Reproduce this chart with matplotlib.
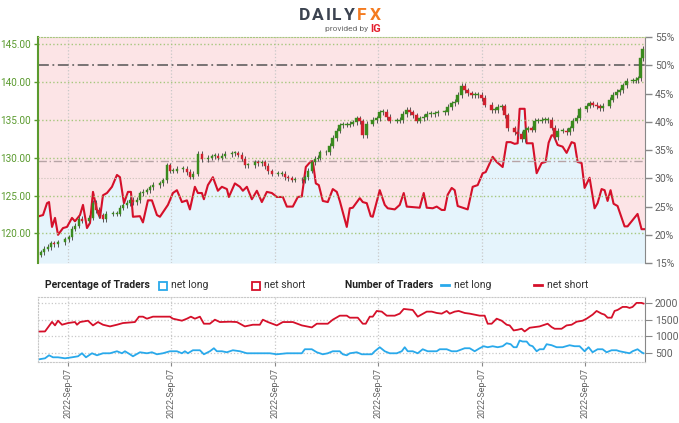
import matplotlib.pyplot as plt
import numpy as np
from matplotlib.patches import Rectangle

plt.rcParams['font.family'] = ['Roboto', 'DejaVu Sans']

# candle positions (time units) and closing prices
candle_t = [41, 44, 48, 51, 54, 58, 65, 69, 72, 75, 79, 82, 89, 93, 96, 99, 103, 106, 113, 117,
            120, 123, 127, 130, 133, 137, 140, 143, 147, 150, 153, 160, 163, 167, 170, 173, 177, 183, 187, 190,
            193, 198, 202, 208, 212, 215, 218, 222, 225, 232, 235, 238, 242, 245, 248, 255, 258, 262, 265, 268,
            272, 278, 282, 285, 288, 292, 295, 302, 305, 308, 312, 315, 318, 320, 326, 330, 333, 337, 340, 343,
            347, 350, 353, 357, 360, 363, 367, 373, 377, 380, 383, 387, 390, 397, 400, 403, 407, 410, 413, 417,
            420, 424, 427, 431, 435, 438, 445, 448, 452, 455, 458, 462, 465, 468, 472, 475, 478, 482, 485, 492,
            495, 498, 502, 505, 508, 515, 518, 522, 525, 528, 532, 535, 538, 542, 545, 548, 552, 555, 558, 563,
            567, 570, 573, 577, 580, 587, 590, 593, 597, 600, 603, 610, 613, 617, 620, 623, 627, 633, 636, 638,
            641, 643]
candle_close = [117.5, 118.0, 118.2, 118.7, 118.6, 118.8, 119.2, 119.5, 120.6, 121.0, 121.9, 121.7, 122.1, 124.0, 123.1, 122.4, 121.9, 122.6, 122.6, 122.6,
                123.4, 123.7, 124.0, 124.4, 124.1, 124.4, 125.3, 125.5, 125.7, 126.1, 126.4, 126.6, 127.0, 129.0, 128.3, 128.3, 128.5, 128.5, 128.1, 127.5,
                127.9, 130.5, 129.8, 130.0, 130.2, 130.3, 130.0, 130.3, 130.5, 130.6, 130.6, 130.4, 129.9, 129.0, 129.0, 129.4, 129.3, 129.4, 128.9, 128.2,
                127.9, 127.9, 127.9, 127.4, 127.3, 127.1, 127.1, 127.0, 127.4, 128.3, 129.4, 129.9, 130.0, 130.7, 130.7, 131.6, 132.6, 133.6, 134.3, 134.4,
                134.4, 134.5, 134.7, 135.2, 134.8, 133.0, 134.5, 135.0, 135.2, 136.0, 136.1, 135.4, 134.9, 134.9, 135.0, 135.8, 136.3, 136.0, 135.6, 134.9,
                135.2, 135.4, 135.8, 135.8, 135.9, 136.0, 136.0, 136.7, 137.2, 137.4, 138.3, 139.5, 138.9, 138.5, 138.3, 138.3, 138.3, 137.9, 137.0, 136.3,
                136.3, 136.7, 136.8, 135.6, 133.9, 133.4, 133.2, 132.5, 133.7, 133.9, 133.7, 134.9, 134.9, 135.0, 135.0, 135.0, 134.0, 132.7, 133.6, 133.6,
                133.4, 133.9, 134.9, 135.3, 136.4, 136.9, 137.2, 137.0, 136.8, 136.6, 136.9, 137.7, 138.3, 138.7, 138.9, 139.6, 140.2, 140.2, 140.3, 140.5,
                143.2, 144.4]

# percentage of traders net long (right axis)
pct_t = [39, 43, 47, 49, 52, 55, 58, 63, 67, 72, 75, 80, 83, 87, 90, 93, 97, 100, 103, 107,
         112, 117, 120, 124, 128, 131, 133, 140, 143, 148, 152, 157, 160, 168, 173, 177, 182, 187, 190, 195,
         198, 202, 204, 208, 213, 218, 222, 227, 229, 235, 240, 243, 247, 252, 257, 262, 267, 272, 277, 283,
         287, 293, 298, 302, 306, 311, 313, 316, 319, 323, 328, 333, 337, 340, 347, 350, 353, 360, 363, 367,
         371, 373, 380, 385, 388, 395, 400, 404, 407, 420, 424, 427, 433, 437, 442, 445, 448, 452, 455, 458,
         468, 473, 478, 483, 486, 493, 497, 503, 507, 511, 515, 518, 520, 525, 527, 533, 537, 542, 546, 549,
         552, 554, 558, 563, 567, 572, 575, 578, 582, 585, 590, 595, 598, 602, 605, 608, 611, 614, 618, 625,
         628, 638, 642, 645]
pct_long = [23.3, 23.5, 25.6, 25.8, 21.4, 23.0, 20.0, 21.2, 21.4, 23.0, 22.4, 23.5, 25.3, 21.2, 22.1, 27.6, 24.4, 23.0, 27.0, 27.4,
            28.5, 30.6, 30.2, 25.6, 27.6, 27.6, 23.2, 23.3, 22.2, 26.1, 26.1, 23.5, 23.2, 25.3, 27.4, 27.9, 25.8, 26.1, 24.5, 28.5,
            27.4, 27.4, 26.3, 28.8, 30.2, 27.8, 28.5, 28.1, 26.7, 29.1, 28.5, 27.8, 28.5, 26.3, 27.8, 25.8, 27.6, 27.4, 26.7, 26.7,
            25.0, 25.0, 26.7, 26.8, 32.0, 33.0, 33.0, 29.1, 28.8, 26.0, 25.8, 28.1, 27.6, 26.0, 21.4, 24.7, 24.8, 26.5, 25.8, 25.6,
            23.3, 23.2, 27.9, 25.3, 24.7, 24.5, 25.3, 27.4, 25.0, 24.8, 27.4, 24.8, 24.7, 25.0, 24.4, 24.4, 27.1, 28.3, 27.9, 25.1,
            24.5, 28.5, 28.8, 30.9, 31.1, 33.8, 32.9, 32.0, 36.4, 36.4, 36.1, 36.2, 42.3, 42.3, 36.2, 36.2, 30.9, 32.7, 32.9, 36.3,
            37.6, 37.6, 35.9, 35.6, 34.5, 36.4, 36.2, 32.9, 32.7, 28.3, 30.1, 24.7, 25.6, 28.1, 27.9, 26.0, 27.9, 25.5, 25.1, 21.5,
            21.5, 23.7, 21.0, 21.0]

# number of traders
short_t = [39, 45, 52, 55, 58, 62, 68, 75, 77, 80, 88, 93, 98, 103, 110, 117, 123, 135, 139, 143,
           147, 153, 163, 170, 173, 182, 187, 191, 195, 200, 204, 210, 215, 220, 230, 237, 245, 253, 260, 263,
           268, 277, 283, 293, 302, 312, 317, 328, 333, 340, 347, 350, 358, 363, 366, 370, 373, 377, 382, 387,
           395, 400, 404, 413, 418, 427, 432, 437, 442, 447, 450, 455, 459, 465, 470, 475, 480, 485, 488, 492,
           497, 502, 507, 510, 514, 518, 522, 525, 530, 535, 540, 543, 548, 552, 555, 562, 567, 572, 577, 583,
           587, 593, 597, 602, 605, 608, 612, 615, 618, 623, 627, 630, 633, 637, 642, 644]
short_n = [1147, 1150, 1435, 1330, 1470, 1350, 1400, 1430, 1350, 1430, 1470, 1330, 1430, 1350, 1300, 1350, 1400, 1430, 1590, 1590,
           1530, 1590, 1590, 1590, 1530, 1470, 1530, 1590, 1530, 1590, 1380, 1380, 1500, 1430, 1440, 1430, 1300, 1350, 1350, 1500,
           1430, 1330, 1430, 1430, 1330, 1270, 1380, 1380, 1500, 1620, 1620, 1560, 1560, 1380, 1380, 1590, 1590, 1760, 1740, 1620,
           1620, 1680, 1820, 1790, 1590, 1740, 1740, 1700, 1680, 1760, 1680, 1740, 1760, 1700, 1680, 1650, 1620, 1620, 1380, 1380,
           1530, 1470, 1350, 1330, 1180, 1200, 1230, 1150, 1260, 1280, 1300, 1330, 1380, 1280, 1230, 1230, 1330, 1350, 1440, 1470,
           1530, 1650, 1760, 1680, 1650, 1560, 1560, 1760, 1790, 1880, 1880, 1850, 1880, 2000, 2000, 1980]
long_t = [39, 45, 49, 53, 58, 65, 72, 78, 82, 86, 92, 97, 103, 110, 117, 122, 125, 130, 133, 140,
          147, 152, 157, 163, 170, 177, 182, 185, 188, 193, 200, 204, 210, 214, 217, 222, 227, 233, 240, 247,
          253, 263, 270, 277, 287, 302, 305, 312, 317, 323, 328, 333, 340, 343, 347, 350, 357, 362, 372, 375,
          380, 385, 390, 397, 402, 405, 408, 413, 418, 423, 428, 437, 440, 447, 452, 457, 465, 470, 475, 480,
          484, 488, 493, 498, 503, 507, 511, 514, 517, 520, 523, 527, 530, 533, 537, 540, 544, 547, 552, 557,
          563, 570, 575, 580, 585, 589, 593, 598, 603, 607, 612, 617, 620, 625, 630, 633, 638, 642, 644]
long_n = [320, 350, 440, 380, 380, 350, 380, 410, 500, 380, 500, 440, 500, 500, 560, 500, 560, 470, 410, 530,
          500, 530, 470, 500, 560, 560, 500, 560, 500, 590, 590, 470, 560, 650, 560, 560, 530, 590, 560, 500,
          500, 500, 500, 470, 500, 500, 620, 620, 530, 470, 500, 560, 560, 470, 440, 500, 530, 470, 470, 560,
          680, 560, 500, 500, 560, 680, 560, 560, 500, 620, 560, 560, 620, 620, 560, 560, 650, 650, 560, 650,
          710, 680, 710, 680, 710, 800, 770, 680, 680, 880, 850, 850, 740, 710, 560, 620, 620, 770, 740, 680,
          680, 740, 710, 710, 560, 680, 530, 620, 620, 530, 590, 590, 560, 530, 500, 560, 620, 530, 500]

tick_t = [68, 171.5, 275, 378.5, 482, 585.5]
tick_labels = ['2022-Sep-07'] * 6
price_ticks = [120, 125, 130, 135, 140, 145]
pct_ticks = [15, 20, 25, 30, 35, 40, 45, 50, 55]
count_ticks = [500, 1000, 1500, 2000]

GREEN_TXT = '#5a9a2e'
GREY_TXT = '#606060'
RED = '#d5102a'
BLUE = '#29a9eb'

fig = plt.figure(figsize=(6.79, 4.23), dpi=100)
ax_r = fig.add_axes([0.056, 0.378, 0.894, 0.5345])
ax_p = ax_r.twinx()
ax_p.set_zorder(ax_r.get_zorder() + 1)
ax_p.patch.set_visible(False)

# percentage panel (right axis)
ax_r.set_facecolor('#fce4e6')
ax_r.fill_between(pct_t, 15, pct_long, color='#e5f4fc', lw=0)
ax_r.plot(pct_t, pct_long, color=RED, lw=1.5)
ax_r.set_ylim(15, 55)
ax_r.set_xlim(38, 645.5)
ax_r.axhline(50, color='#6e6a6a', lw=1.3, ls=(0, (6, 2, 1, 2)))
ax_r.axhline(33.0, color='#b7a4a6', lw=1.0, ls=(0, (6, 2, 1, 2)))
ax_r.axhline(30.0, color='#c9c2b8', lw=0.8, ls=':')
ax_r.yaxis.tick_right()
ax_r.set_yticks(pct_ticks)
ax_r.set_yticklabels([f'{v}%' for v in pct_ticks], fontsize=7.5)
ax_r.tick_params(axis='y', colors='#888888', labelcolor=GREY_TXT, length=5, width=1, pad=2)
ax_r.set_xticks(tick_t)
ax_r.tick_params(axis='x', length=0, labelbottom=False)
ax_r.grid(axis='x', color='#c8c8c8', ls=':', lw=0.9)
for s in ['top', 'bottom', 'left']:
    ax_r.spines[s].set_visible(False)
ax_r.spines['right'].set_color('#888888')

# price candles (left axis)
opens = [candle_close[0] - 0.3] + candle_close[:-1]
for t, o, c in zip(candle_t, opens, candle_close):
    col = '#3a8a1e' if c >= o else '#d0202e'
    lo, hi = min(o, c), max(o, c)
    ax_p.vlines(t, lo - 0.35, hi + 0.35, color='#555555', lw=0.7, zorder=3)
    ax_p.add_patch(Rectangle((t - 1.3, lo), 2.6, max(hi - lo, 0.12), facecolor=col,
                             edgecolor=col, lw=0.3, zorder=4))
ax_p.set_ylim(116.07, 145.97)
ax_p.yaxis.tick_left()
ax_p.set_yticks(price_ticks)
ax_p.set_yticklabels([f'{v:.2f}' for v in price_ticks], fontsize=7.2)
ax_p.tick_params(axis='y', colors=GREEN_TXT, labelcolor=GREEN_TXT, length=3, width=1, pad=2)
ax_p.grid(axis='y', color='#a6c77e', ls=':', lw=1.0)
for s in ['right', 'bottom']:
    ax_p.spines[s].set_visible(False)
ax_p.spines['top'].set_color('#a6c77e')
ax_p.spines['top'].set_linestyle(':')
ax_p.spines['left'].set_color(GREEN_TXT)
ax_p.spines['left'].set_linewidth(1.5)
ax_p.tick_params(axis='x', length=0, labelbottom=False)

# number of traders panel
ax_b = fig.add_axes([0.056, 0.1442, 0.894, 0.1537])
ax_b.plot(short_t, short_n, color=RED, lw=1.3)
ax_b.plot(long_t, long_n, color=BLUE, lw=1.3)
ax_b.set_xlim(38, 645.5)
ax_b.set_ylim(240, 2176)
ax_b.yaxis.tick_right()
ax_b.set_yticks(count_ticks)
ax_b.set_yticklabels([str(v) for v in count_ticks], fontsize=7.5)
ax_b.tick_params(axis='y', colors='#888888', labelcolor=GREY_TXT, length=5, pad=2)
ax_b.set_xticks(tick_t)
ax_b.set_xticklabels(tick_labels, rotation=90, fontsize=6.4)
ax_b.tick_params(axis='x', colors='#888888', labelcolor=GREY_TXT, length=3, pad=1.5)
ax_b.grid(color='#c8c8c8', ls=':', lw=0.9)
for s in ['top', 'left', 'bottom']:
    ax_b.spines[s].set_color('#c8c8c8')
    ax_b.spines[s].set_linestyle(':')
ax_b.spines['right'].set_color('#888888')

# legend row
ly = 1 - 285 / 423
fig.text(45 / 679, ly, 'Percentage of Traders', fontsize=7.5, fontweight='bold', color='#222222', va='center')
fig.patches.append(Rectangle((159 / 679, ly - 0.012), 8 / 679, 8 / 423, transform=fig.transFigure,
                             facecolor='white', edgecolor=BLUE, lw=1.3))
fig.text(171 / 679, ly, 'net long', fontsize=7.5, color='#333333', va='center')
fig.patches.append(Rectangle((252 / 679, ly - 0.012), 8 / 679, 8 / 423, transform=fig.transFigure,
                             facecolor='white', edgecolor=RED, lw=1.3))
fig.text(264 / 679, ly, 'net short', fontsize=7.5, color='#333333', va='center')
fig.text(345 / 679, ly, 'Number of Traders', fontsize=7.5, fontweight='bold', color='#222222', va='center')
fig.lines.append(plt.Line2D([441 / 679, 449 / 679], [ly, ly], transform=fig.transFigure, color=BLUE, lw=2))
fig.text(454 / 679, ly, 'net long', fontsize=7.5, color='#333333', va='center')
fig.lines.append(plt.Line2D([534 / 679, 542 / 679], [ly, ly], transform=fig.transFigure, color=RED, lw=2))
fig.text(547 / 679, ly, 'net short', fontsize=7.5, color='#333333', va='center')

# logo, letter by letter for the wide spacing
logo_letters = ['D', 'A', 'I', 'L', 'Y', 'F', 'X']
logo_x = [305, 318, 328, 337, 349, 362, 375]
for ch, lx in zip(logo_letters, logo_x):
    fig.text(lx / 679, 1 - 15 / 423, ch, fontsize=12.5, fontweight='bold', ha='center', va='center',
             color='#f47b20' if ch in 'FX' else '#3c4350')
fig.text(325 / 679, 1 - 29 / 423, 'provided by', fontsize=6, color='#666666', va='center')
fig.text(370 / 679, 1 - 29 / 423, 'IG', fontsize=8, fontweight='bold', color='#e4202e', va='center')

fig.savefig('out.png', dpi=100)
